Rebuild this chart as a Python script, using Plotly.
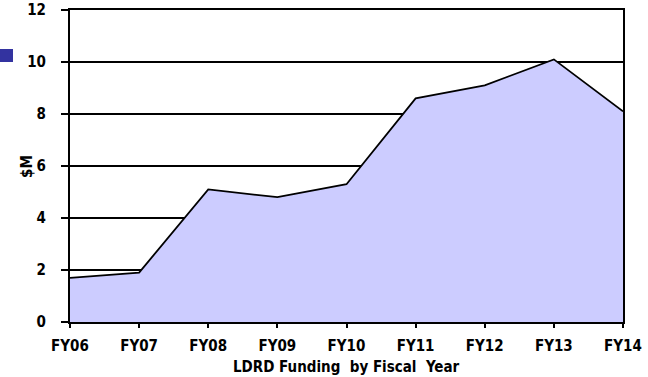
import plotly.graph_objects as go

# LDRD funding per fiscal year, in $M
years = ["FY06", "FY07", "FY08", "FY09", "FY10", "FY11", "FY12", "FY13", "FY14"]
funding = [1.7, 1.9, 5.1, 4.8, 5.3, 8.6, 9.1, 10.1, 8.1]
y_ticks = [0, 2, 4, 6, 8, 10, 12]

font_family = "DejaVu Sans Condensed, DejaVu Sans, sans-serif"

fig = go.Figure()
fig.add_trace(go.Scatter(
    x=years,
    y=funding,
    mode="lines",
    fill="tozeroy",
    fillcolor="#ccccff",
    line=dict(color="black", width=1.8),
    hoverinfo="x+y",
))

fig.update_layout(
    width=648,
    height=377,
    margin=dict(l=70, r=25, t=10, b=55),
    paper_bgcolor="white",
    plot_bgcolor="white",
    showlegend=False,
    font=dict(family=font_family, color="black"),
)

fig.update_xaxes(
    type="category",
    range=[0, 8],
    automargin=False,
    showgrid=False,
    showline=True,
    linecolor="black",
    linewidth=2,
    mirror=True,
    ticks="outside",
    ticklen=4,
    tickwidth=1.5,
    tickcolor="black",
    tickfont=dict(size=15, family=font_family, weight="bold"),
    ticklabelstandoff=5,
)

fig.update_yaxes(
    range=[0, 12],
    tickvals=y_ticks,
    automargin=False,
    showgrid=True,
    gridcolor="black",
    gridwidth=1.5,
    zeroline=False,
    showline=True,
    linecolor="black",
    linewidth=2,
    mirror=True,
    ticks="outside",
    ticklen=7,
    tickwidth=1.5,
    tickcolor="black",
    tickfont=dict(size=15, family=font_family, weight="bold"),
    ticklabelstandoff=12,
)

# axis titles
fig.add_annotation(
    text="LDRD Funding  by Fiscal  Year",
    xref="paper", yref="paper",
    x=0.5, y=0,
    xanchor="center", yanchor="middle",
    yshift=-45,
    showarrow=False,
    font=dict(size=15, family=font_family, weight="bold"),
)
fig.add_annotation(
    text="$M",
    xref="paper", yref="paper",
    x=0, y=0.5,
    xanchor="center", yanchor="middle",
    xshift=-43, yshift=-1,
    textangle=-90,
    showarrow=False,
    font=dict(size=15, family=font_family, weight="bold"),
)

# small dark-blue marker block at the left edge
plot_w = 648 - 70 - 25
plot_h = 377 - 10 - 55
fig.add_shape(
    type="rect",
    xref="paper", yref="paper",
    x0=(0 - 70) / plot_w, x1=(13 - 70) / plot_w,
    y0=(322 - 62) / plot_h, y1=(322 - 49) / plot_h,
    fillcolor="#3333a0",
    line=dict(width=0),
    layer="above",
)

fig.write_html("out.html")
